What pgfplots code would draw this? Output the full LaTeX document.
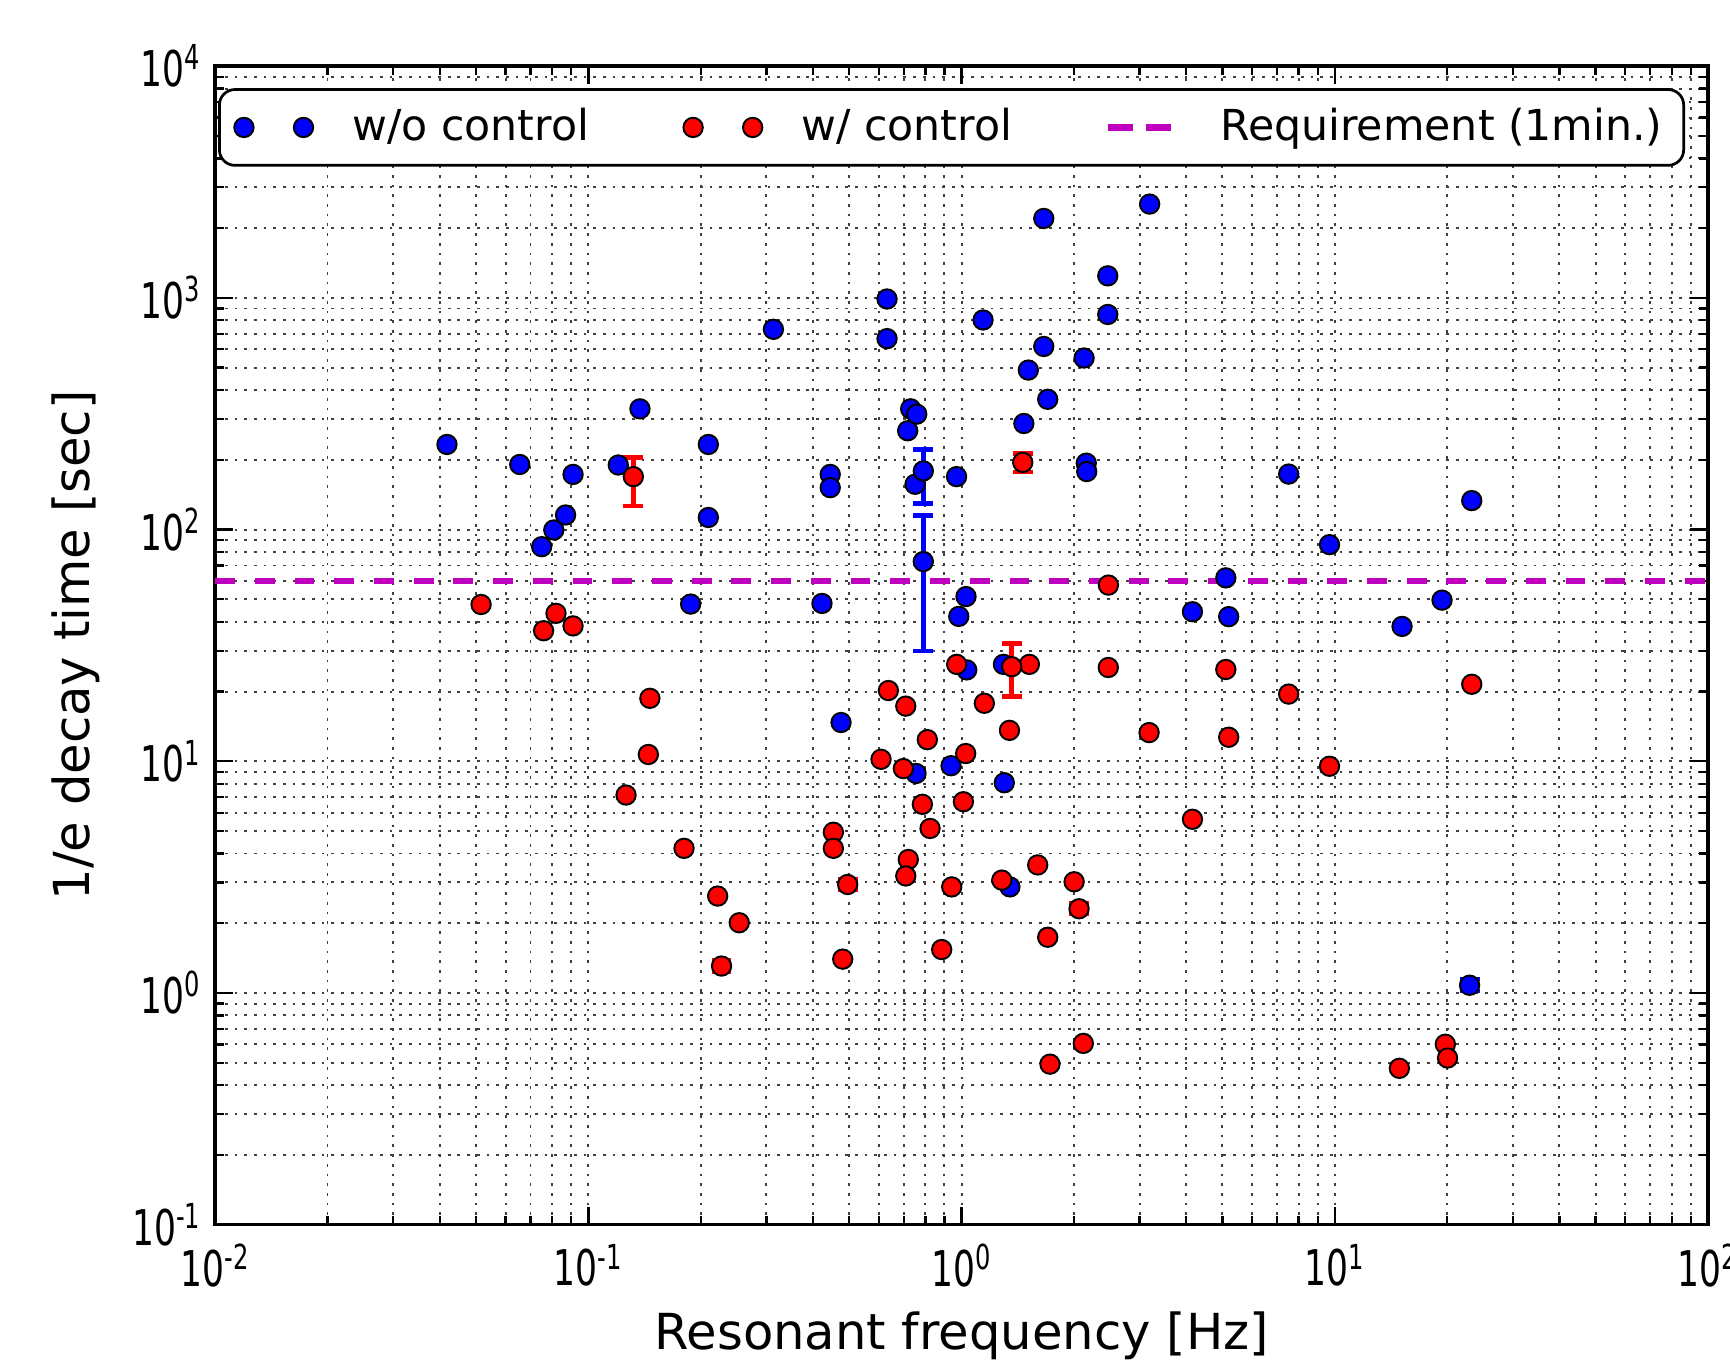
\documentclass[border=0pt]{standalone}
\usepackage{pgfplots}
\pgfplotsset{compat=1.18}
\usepackage{pgfplotstable}
\usepackage{graphicx}
\usepackage{fontspec}
\setmainfont{DejaVu Sans}

\definecolor{mplblue}{RGB}{0,0,255}
\definecolor{mplred}{RGB}{255,0,0}
\definecolor{mplmag}{RGB}{191,0,191}

% w/o control
\pgfplotstableread{
x y
0.0418 233
0.0655 191
0.0750 84.4
0.0808 99.6
0.0869 115.6
0.0910 173
0.1203 190
0.1375 332
0.2097 233
0.2097 112.8
0.188 47.7
0.3133 732
0.4227 48.0
0.4448 173
0.4448 151.7
0.4755 14.7
0.6316 989
0.6316 667
0.7173 267
0.7307 332
0.7586 315
0.7508 156.9
0.7552 8.86
0.9373 9.57
0.9698 169.3
0.983 42.2
1.028 51.4
1.0325 24.8
1.142 803
1.302 8.08
1.295 26.2
1.348 2.87
1.469 287
1.51 488
1.661 617
1.661 2202
1.702 365
2.130 550
2.159 193.5
2.165 178
2.465 1245
2.465 848
3.192 2540
4.157 44.2
5.107 61.9
5.198 42.1
7.527 173.6
9.683 86.1
15.15 38.2
19.39 49.6
23.29 133.4
}\wocdata

\pgfplotstableread{
x y ep em
0.790 179.2 41.8 49.5
0.790 72.8 42.1 42.9
22.98 1.08 0.07 0.06
}\wocerr

% w/ control
\pgfplotstableread{
x y
0.0516 47.5
0.0759 36.6
0.0819 43.5
0.0910 38.4
0.1262 7.15
0.1462 18.7
0.1448 10.7
0.1805 4.21
0.2221 2.62
0.2537 2.01
0.4535 4.94
0.4535 4.21
0.4804 1.40
0.6085 10.2
0.6368 20.2
0.7089 17.3
0.6984 9.30
0.7201 3.77
0.7089 3.20
0.7855 6.52
0.8098 12.4
0.8235 5.13
0.8847 1.54
0.9412 2.87
0.9705 26.2
1.0116 6.69
1.026 10.8
1.151 17.8
1.282 3.07
1.344 13.6
1.52 26.2
1.60 3.57
1.702 1.74
1.726 0.493
2.003 3.02
2.12 0.606
2.475 57.6
2.473 25.4
3.181 13.3
4.157 5.62
5.107 24.9
5.198 12.7
7.527 19.5
9.683 9.52
14.9 0.473
19.79 0.601
20.06 0.524
23.29 21.5
}\wcdata

\pgfplotstableread{
x y ep em
0.132 169.3 35.7 43.0
1.363 25.6 6.7 6.6
1.459 195 18 18
0.2275 1.307 0.07 0.07
0.4953 2.94 0.15 0.15
2.065 2.31 0.12 0.12
}\wcerr

\begin{document}
\begin{tikzpicture}
\begin{axis}[
  xmode=log, ymode=log,
  scale only axis,
  width=13.53cm, height=10.50cm,
  xmin=1e-2, xmax=1e2, ymin=1e-1, ymax=1e4,
  grid=both,
  major grid style={black!75, line width=0.5pt, dash pattern=on 0.7pt off 1.8pt},
  minor grid style={black!75, line width=0.5pt, dash pattern=on 0.7pt off 1.8pt},
  axis line style={line width=0.9pt},
  tick align=inside,
  major tick length=0.16cm, minor tick length=0.08cm,
  every tick/.style={black, line width=0.6pt},
  /pgf/number format/assume math mode=true,
  log number format basis/.code 2 args={\scalebox{0.7}[1]{#1\textsuperscript{\pgfmathprintnumber{#2}}}},
  tick label style={font=\fontsize{12.7}{14}\selectfont},
  xticklabel style={yshift=-0.05cm},
  label style={font=\fontsize{12.8}{15}\selectfont},
  xlabel={Resonant frequency [Hz]},
  ylabel={1/e decay time [sec]},
  xlabel style={at={(axis description cs:0.5,-0.063)}, anchor=north},
  ylabel style={at={(axis description cs:-0.093,0.5)}, anchor=center},
  legend columns=3,
  legend style={
    at={(axis description cs:0.4933,0.981)}, anchor=north,
    draw=black, line width=0.7pt, rounded corners=4pt,
    font=\fontsize{11}{13}\selectfont,
    inner xsep=0.12cm, inner ysep=0.1cm,
    /tikz/every even column/.append style={column sep=0.77cm},
  },
]
\coordinate (sw) at (rel axis cs:0,0);
\coordinate (ne) at (rel axis cs:1,1);

\addplot[only marks, mark=*, mark size=2.5pt,
  mark options={fill=mplblue, draw=black, line width=0.5pt},
  legend image code/.code={\draw plot coordinates {(0cm,0cm) (0.54cm,0cm)}; \path (-0.09cm,0cm) (0.90cm,0cm);}]
  table[x=x, y=y] {\wocdata};
\addlegendentry{w/o control}

\addplot[only marks, mark=*, mark size=2.5pt, forget plot,
  mark options={fill=mplblue, draw=black, line width=0.5pt},
  error bars/.cd, y dir=both, y explicit,
  error bar style={mplblue, line width=1.2pt},
  error mark options={rotate=90, mplblue, mark size=0.09cm, line width=1.2pt}]
  table[x=x, y=y, y error plus=ep, y error minus=em] {\wocerr};

\addplot[only marks, mark=*, mark size=2.5pt,
  mark options={fill=mplred, draw=black, line width=0.5pt},
  legend image code/.code={\draw plot coordinates {(0cm,0cm) (0.54cm,0cm)}; \path (-0.09cm,0cm) (0.90cm,0cm);}]
  table[x=x, y=y] {\wcdata};
\addlegendentry{w/ control}

\addplot[only marks, mark=*, mark size=2.5pt, forget plot,
  mark options={fill=mplred, draw=black, line width=0.5pt},
  error bars/.cd, y dir=both, y explicit,
  error bar style={mplred, line width=1.2pt},
  error mark options={rotate=90, mplred, mark size=0.09cm, line width=1.2pt}]
  table[x=x, y=y, y error plus=ep, y error minus=em] {\wcerr};

\addplot[mplmag, line width=1.6pt, dash pattern=on 0.18cm off 0.18cm,
  legend image code/.code={\draw[solid] (0cm,0cm) -- (0.23cm,0cm); \draw[solid] (0.34cm,0cm) -- (0.57cm,0cm); \path (0cm,0cm) (0.92cm,0cm);}]
  coordinates {(1e-2,60) (1e2,60)};
\addlegendentry{Requirement (1min.)}
\end{axis}
\pgfresetboundingbox
\path[use as bounding box] ([xshift=-1.95cm,yshift=-1.23cm]sw) rectangle ([xshift=0.20cm,yshift=0.60cm]ne);
\end{tikzpicture}
\end{document}
